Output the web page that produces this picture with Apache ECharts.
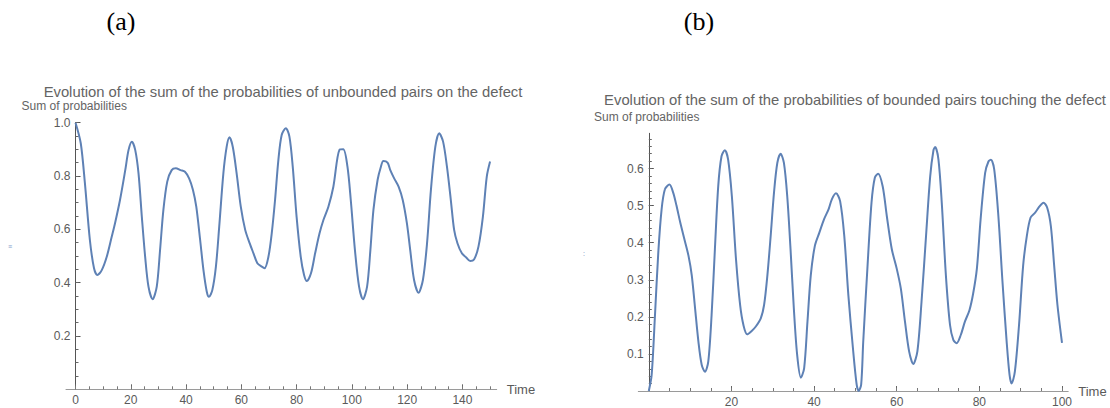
<!DOCTYPE html>
<html>
<head>
<meta charset="utf-8">
<script src="https://cdn.jsdelivr.net/npm/echarts@6/dist/echarts.min.js"></script>
<style>
html,body{margin:0;padding:0;background:#fff;}
#chart{width:1110px;height:408px;}
</style>
</head>
<body>
<div id="chart"></div>
<script>
// ---- Panel (a): unbounded pairs on the defect ----
const timeA = [0,1.9,3.4,5.2,6.7,7.9,9.5,11.3,13.1,14.3,16.1,18,19.2,20.4,21.6,22.8,24,25.2,26.4,27.9,29.4,30.6,31.8,33.2,34.8,36.3,38,39.6,41.1,42.5,43.7,45.1,46.3,47.5,48.3,49.5,50.8,52,53.5,54.7,55.7,56.9,58.3,59.8,61.4,63,64.4,65.8,67.4,68.4,69.8,71,72.2,73.4,74.6,76.1,77.4,78.6,80,81.5,82.7,83.7,85.2,86.7,88.3,89.7,91.5,93.3,95.5,96.9,98.4,99.6,101.1,102.6,104,105.5,106.7,107.8,109.3,110.5,111.4,112.9,113.9,115.3,116.9,118.4,119.9,121.1,122.5,124.1,125.7,127.2,128.6,130.2,131.6,133,134.4,135.8,137,138.2,139.8,141.3,142.8,144.2,145.8,147.4,148.8,150];
const probA = [1.0,0.923,0.773,0.56,0.454,0.429,0.447,0.497,0.572,0.623,0.71,0.822,0.898,0.929,0.898,0.81,0.647,0.497,0.385,0.338,0.385,0.523,0.673,0.779,0.822,0.829,0.822,0.816,0.791,0.748,0.685,0.56,0.447,0.366,0.347,0.372,0.46,0.61,0.81,0.91,0.945,0.91,0.81,0.685,0.598,0.548,0.51,0.473,0.46,0.454,0.497,0.585,0.71,0.86,0.954,0.979,0.948,0.835,0.647,0.497,0.429,0.406,0.435,0.51,0.585,0.635,0.685,0.76,0.898,0.9,0.835,0.71,0.523,0.385,0.338,0.385,0.523,0.673,0.785,0.835,0.856,0.85,0.822,0.791,0.76,0.71,0.623,0.523,0.41,0.362,0.41,0.548,0.748,0.91,0.96,0.929,0.835,0.71,0.598,0.548,0.51,0.495,0.481,0.487,0.535,0.647,0.797,0.854];
const xTicksA = [0,20,40,60,80,100,120,140];
const xMinorA = [0,5,10,15,20,25,30,35,40,45,50,55,60,65,70,75,80,85,90,95,100,105,110,115,120,125,130,135,140,145,150];
const yTicksA = [0.2,0.4,0.6,0.8,1.0];
const yMinorA = [0.05,0.1,0.15,0.2,0.25,0.3,0.35,0.4,0.45,0.5,0.55,0.6,0.65,0.7,0.75,0.8,0.85,0.9,0.95,1.0];

// ---- Panel (b): bounded pairs touching the defect ----
const timeB = [0,0.7,1.5,2.3,3.1,3.9,5,5.9,6.7,7.6,8.6,9.6,10.4,11.2,12,12.8,13.6,14.4,15.2,16,16.8,17.6,18.4,19.2,20.1,21.1,22.1,22.9,23.8,24.9,25.9,27.1,27.9,28.7,29.5,30.3,31.1,31.9,32.7,33.5,34.3,35.1,35.9,36.8,37.6,38.4,39.2,40.2,41.3,42.4,43.5,44.3,45.3,46.3,47.3,48.3,49.4,50.3,50.8,51.4,51.9,52.9,53.9,54.7,55.5,56.6,57.6,58.8,60,61,62,63,64,65,66,67.1,68.1,68.9,69.3,70.1,70.9,71.9,72.9,73.7,74.5,75.5,76.5,77.6,78.5,79.4,80.3,81.4,82.2,82.8,83.6,84.6,85.6,86.6,87.3,87.8,88.6,89.6,90.6,91.5,92.4,93.5,94.5,95.5,96.4,97.3,98.1,98.9,100];
const probB = [0,0.044,0.205,0.374,0.49,0.544,0.557,0.535,0.5,0.455,0.41,0.365,0.312,0.223,0.134,0.071,0.052,0.08,0.205,0.383,0.552,0.633,0.649,0.624,0.526,0.356,0.232,0.178,0.153,0.162,0.174,0.196,0.232,0.312,0.419,0.535,0.615,0.64,0.615,0.526,0.383,0.223,0.098,0.036,0.062,0.187,0.312,0.392,0.428,0.463,0.49,0.517,0.533,0.512,0.419,0.258,0.116,0.018,0.0,0.018,0.134,0.33,0.508,0.575,0.586,0.552,0.472,0.383,0.33,0.276,0.187,0.107,0.073,0.107,0.24,0.419,0.579,0.65,0.658,0.624,0.508,0.312,0.178,0.138,0.129,0.151,0.187,0.218,0.263,0.33,0.463,0.588,0.619,0.624,0.597,0.472,0.294,0.134,0.044,0.02,0.053,0.178,0.339,0.419,0.468,0.481,0.497,0.508,0.495,0.445,0.339,0.232,0.13];
const xTicksB = [20,40,60,80,100];
const xMinorB = [0,5,10,15,20,25,30,35,40,45,50,55,60,65,70,75,80,85,90,95,100];
const yTicksB = [0.1,0.2,0.3,0.4,0.5,0.6];
const yMinorB = [0.02,0.04,0.06,0.08,0.1,0.12,0.14,0.16,0.18,0.2,0.22,0.24,0.26,0.28,0.3,0.32,0.34,0.36,0.38,0.4,0.42,0.44,0.46,0.48,0.5,0.52,0.54,0.56,0.58,0.6,0.62,0.64,0.66,0.68];

const titleA = 'Evolution of the sum of the probabilities of unbounded pairs on the defect';
const titleB = 'Evolution of the sum of the probabilities of bounded pairs touching the defect';
const yNameText = 'Sum of probabilities';
const xNameText = 'Time';

const FONT = '"Liberation Sans", Arial, Helvetica, sans-serif';
const LINE = '#5E81B5';
const XAXIS = '#9a9a9a';
const YAXIS = '#555555';
const TXT = '#5a5a5a';

function zip(xs, ys){ return xs.map((x,i)=>[x, ys[i]]); }

function xAxisPair(grid, min, max, majors, labels, minors){
  return [
    {type:'value', gridIndex:grid, min:min, max:max, position:'bottom',
     axisLine:{show:true, onZero:false, lineStyle:{color:XAXIS, width:1}},
     axisTick:{show:true, inside:true, length:5, customValues:majors, lineStyle:{color:'#666'}},
     axisLabel:{show:true, customValues:labels, color:TXT, fontSize:12, fontFamily:FONT, margin:5},
     splitLine:{show:false},
     name:xNameText, nameLocation:'end', nameGap:10,
     nameTextStyle:{color:TXT, fontSize:13, fontFamily:FONT, verticalAlign:'middle'}},
    {type:'value', gridIndex:grid, min:min, max:max, position:'bottom',
     axisLine:{show:false, onZero:false},
     axisTick:{show:true, inside:true, length:3, customValues:minors, lineStyle:{color:'#777'}},
     axisLabel:{show:false}, splitLine:{show:false}}
  ];
}
function yAxisPair(grid, min, max, majors, minors, off){
  return [
    {type:'value', gridIndex:grid, min:min, max:max, position:'left', offset:off,
     axisLine:{show:true, onZero:false, lineStyle:{color:YAXIS, width:1}},
     axisTick:{show:true, inside:true, length:5, customValues:majors, lineStyle:{color:'#555'}},
     axisLabel:{show:true, customValues:majors, color:TXT, fontSize:12, fontFamily:FONT, margin:5,
                formatter:(v)=>v.toFixed(1)},
     splitLine:{show:false}},
    {type:'value', gridIndex:grid, min:min, max:max, position:'left', offset:off,
     axisLine:{show:false, onZero:false},
     axisTick:{show:true, inside:true, length:3, customValues:minors, lineStyle:{color:'#666'}},
     axisLabel:{show:false}, splitLine:{show:false}}
  ];
}

const chart = echarts.init(document.getElementById('chart'), null, {renderer:'svg'});
chart.setOption({
  animation:false,
  backgroundColor:'#ffffff',
  grid:[
    {left:66, top:122.7, width:430.7, height:266.6, containLabel:false},
    {left:638.3, top:133.3, width:429.9, height:260, containLabel:false}
  ],
  xAxis:[
    ...xAxisPair(0, -3.44, 152.4, xTicksA, xTicksA, xMinorA),
    ...xAxisPair(1, -2.54, 101.5, xTicksB, xTicksB, xMinorB)
  ],
  yAxis:[
    ...yAxisPair(0, 0, 1.0, yTicksA, yMinorA, -9.5),
    ...yAxisPair(1, 0, 0.695, yTicksB, yMinorB, -10.5)
  ],
  series:[
    {type:'line', xAxisIndex:0, yAxisIndex:0, data:zip(timeA, probA), smooth:0.3,
     showSymbol:false, lineStyle:{color:LINE, width:2}, clip:false},
    {type:'line', xAxisIndex:2, yAxisIndex:2, data:zip(timeB, probB), smooth:0.3,
     showSymbol:false, lineStyle:{color:LINE, width:2}, clip:false}
  ],
  graphic:[
    {type:'text', x:121, y:21, style:{text:'(a)', font:'26px "Liberation Serif", "Times New Roman", serif', fill:'#000', align:'center', verticalAlign:'middle'}},
    {type:'text', x:699, y:21, style:{text:'(b)', font:'26px "Liberation Serif", "Times New Roman", serif', fill:'#000', align:'center', verticalAlign:'middle'}},
    {type:'text', x:283, y:92, style:{text:titleA, font:'14.8px '+FONT, fill:'#646464', align:'center', verticalAlign:'middle'}},
    {type:'text', x:855, y:100, style:{text:titleB, font:'14.8px '+FONT, fill:'#646464', align:'center', verticalAlign:'middle'}},
    {type:'text', x:21.5, y:106, style:{text:yNameText, font:'12px '+FONT, fill:'#646464', align:'left', verticalAlign:'middle'}},
    {type:'text', x:594, y:117, style:{text:yNameText, font:'12px '+FONT, fill:'#646464', align:'left', verticalAlign:'middle'}},
    {type:'text', x:10, y:246, style:{text:'≡', font:'7px '+FONT, fill:'#7fa0cc', align:'center', verticalAlign:'middle'}},
    {type:'text', x:584, y:253, style:{text:':', font:'7px '+FONT, fill:'#5E81B5', align:'center', verticalAlign:'middle'}}
  ]
});
</script>
</body>
</html>
